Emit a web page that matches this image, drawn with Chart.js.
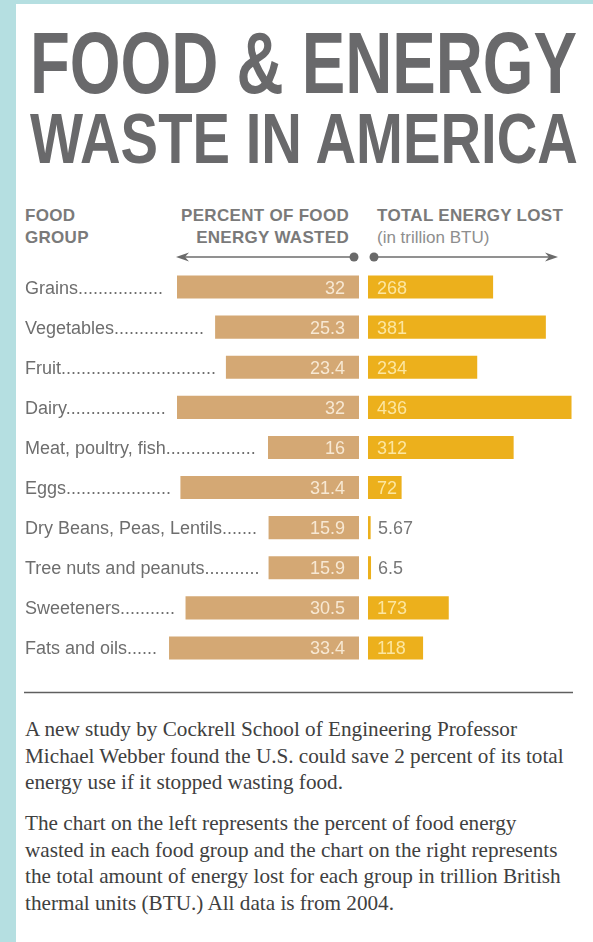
<!DOCTYPE html>
<html>
<head>
<meta charset="utf-8">
<title>Food & Energy Waste in America</title>
<script src="https://cdn.jsdelivr.net/npm/chart.js@4.4.1/dist/chart.umd.min.js"></script>
<style>
  html, body { margin: 0; padding: 0; background: #fff; }
  #page { position: relative; width: 593px; height: 942px; overflow: hidden; background: #fff; }
  .strip-left { position: absolute; left: 0; top: 0; width: 16px; height: 942px; background: #b5dfe1; }
  .strip-top { position: absolute; left: 0; top: 0; width: 593px; height: 4px; background: #b5dfe1; }
  svg.deco { position: absolute; left: 0; top: 0; }
  canvas { position: absolute; }
  #pctChart { left: 0; top: 267px; }
  #energyChart { left: 362px; top: 267px; }
</style>
</head>
<body>
<div id="page">
  <div class="strip-left"></div>
  <div class="strip-top"></div>

  <svg class="deco" width="593" height="942">
    <g font-family="'Liberation Sans', Arial, sans-serif" font-weight="bold" fill="#69696b">
      <text x="30" y="93" font-size="88" textLength="547" lengthAdjust="spacingAndGlyphs">FOOD &amp; ENERGY</text>
      <text x="30" y="163" font-size="71" textLength="548" lengthAdjust="spacingAndGlyphs">WASTE IN AMERICA</text>
    </g>

    <!-- column headers -->
    <g font-family="'Liberation Sans', Arial, sans-serif" font-size="17" font-weight="bold" fill="#7a7a7a" letter-spacing="0.3">
      <text x="25" y="221">FOOD</text>
      <text x="25" y="243">GROUP</text>
      <text x="349" y="221" text-anchor="end">PERCENT OF FOOD</text>
      <text x="349" y="243" text-anchor="end">ENERGY WASTED</text>
      <text x="377" y="221">TOTAL ENERGY LOST</text>
    </g>
    <text x="377" y="243" font-family="'Liberation Sans', Arial, sans-serif" font-size="17" fill="#8e8e8e">(in trillion BTU)</text>

    <!-- direction arrows -->
    <g stroke="#6d6d6d" stroke-width="1.5">
      <line x1="182" y1="257" x2="354" y2="257"/>
      <line x1="374" y1="257" x2="552" y2="257"/>
    </g>
    <g fill="#6a6a6a">
      <polygon points="176,257 189,252.5 185,257 189,261.5"/>
      <polygon points="558,257 545,252.5 549,257 545,261.5"/>
      <circle cx="354" cy="257" r="4.5"/>
      <circle cx="374" cy="257" r="4.5"/>
    </g>

    <line x1="24" y1="692.5" x2="573" y2="692.5" stroke="#5f5f5f" stroke-width="1.3"/>

    <g font-family="'Liberation Serif', 'Times New Roman', serif" font-size="21.2" fill="#404040">
      <text x="25" y="736">A new study by Cockrell School of Engineering Professor</text>
      <text x="25" y="763">Michael Webber found the U.S. could save 2 percent of its total</text>
      <text x="25" y="789">energy use if it stopped wasting food.</text>
      <text x="25" y="830">The chart on the left represents the percent of food energy</text>
      <text x="25" y="857">wasted in each food group and the chart on the right represents</text>
      <text x="25" y="883">the total amount of energy lost for each group in trillion British</text>
      <text x="25" y="910">thermal units (BTU.) All data is from 2004.</text>
    </g>
  </svg>

  <canvas id="pctChart" width="362" height="401"></canvas>
  <canvas id="energyChart" width="231" height="401"></canvas>
</div>

<script>
  const foodGroups = [
    'Grains', 'Vegetables', 'Fruit', 'Dairy', 'Meat, poultry, fish',
    'Eggs', 'Dry Beans, Peas, Lentils', 'Tree nuts and peanuts', 'Sweeteners', 'Fats and oils'
  ];
  const pctWasted = [32, 25.3, 23.4, 32, 16, 31.4, 15.9, 15.9, 30.5, 33.4];
  const energyLost = [268, 381, 234, 436, 312, 72, 5.67, 6.5, 173, 118];

  const rowFont = '18px "Liberation Sans", Arial, sans-serif';
  const valueFont = '18px "Liberation Sans", Arial, sans-serif';

  // group names with dot leaders running up to each bar, plus the value inside the bar
  const pctLabels = {
    id: 'pctLabels',
    afterDatasetsDraw(chart) {
      const ctx = chart.ctx;
      const bars = chart.getDatasetMeta(0).data;
      ctx.save();
      bars.forEach((bar, i) => {
        const y = bar.y + 6.5;
        ctx.font = valueFont;
        ctx.fillStyle = '#f7e8d3';
        ctx.textAlign = 'right';
        ctx.fillText(String(pctWasted[i]), bar.base - 14, y);

        ctx.font = rowFont;
        ctx.fillStyle = '#6e6e6e';
        ctx.textAlign = 'left';
        const stop = bar.x - 9;
        let text = foodGroups[i];
        while (25 + ctx.measureText(text + '.').width <= stop) text += '.';
        ctx.fillText(text, 25, y);
      });
      ctx.restore();
    }
  };

  const energyLabels = {
    id: 'energyLabels',
    afterDatasetsDraw(chart) {
      const ctx = chart.ctx;
      const bars = chart.getDatasetMeta(0).data;
      ctx.save();
      ctx.font = valueFont;
      ctx.textAlign = 'left';
      bars.forEach((bar, i) => {
        const y = bar.y + 6.5;
        if (bar.x - bar.base > 25) {
          ctx.fillStyle = '#fce6a0';
          ctx.fillText(String(energyLost[i]), bar.base + 9, y);
        } else {
          // too thin to hold the number
          ctx.fillStyle = '#777777';
          ctx.fillText(String(energyLost[i]), bar.base + 10, y);
        }
      });
      ctx.restore();
    }
  };

  const common = {
    indexAxis: 'y',
    responsive: false,
    maintainAspectRatio: false,
    animation: false,
    events: [],
    plugins: { legend: { display: false }, tooltip: { enabled: false } }
  };

  new Chart(document.getElementById('pctChart'), {
    type: 'bar',
    data: {
      labels: foodGroups,
      datasets: [{
        data: pctWasted,
        backgroundColor: '#d4a874',
        borderWidth: 0,
        barPercentage: 0.575,
        categoryPercentage: 1
      }]
    },
    options: {
      ...common,
      layout: { padding: { left: 131.5, right: 3, top: 0, bottom: 0 } },
      scales: {
        x: { display: false, reverse: true, min: 0, max: 40 },
        y: { display: false }
      }
    },
    plugins: [pctLabels]
  });

  new Chart(document.getElementById('energyChart'), {
    type: 'bar',
    data: {
      labels: foodGroups,
      datasets: [{
        data: energyLost,
        backgroundColor: '#ecb01c',
        borderWidth: 0,
        barPercentage: 0.575,
        categoryPercentage: 1
      }]
    },
    options: {
      ...common,
      layout: { padding: { left: 6, right: 0, top: 0, bottom: 0 } },
      scales: {
        x: { display: false, min: 0, max: 482 },
        y: { display: false }
      }
    },
    plugins: [energyLabels]
  });
</script>
</body>
</html>
